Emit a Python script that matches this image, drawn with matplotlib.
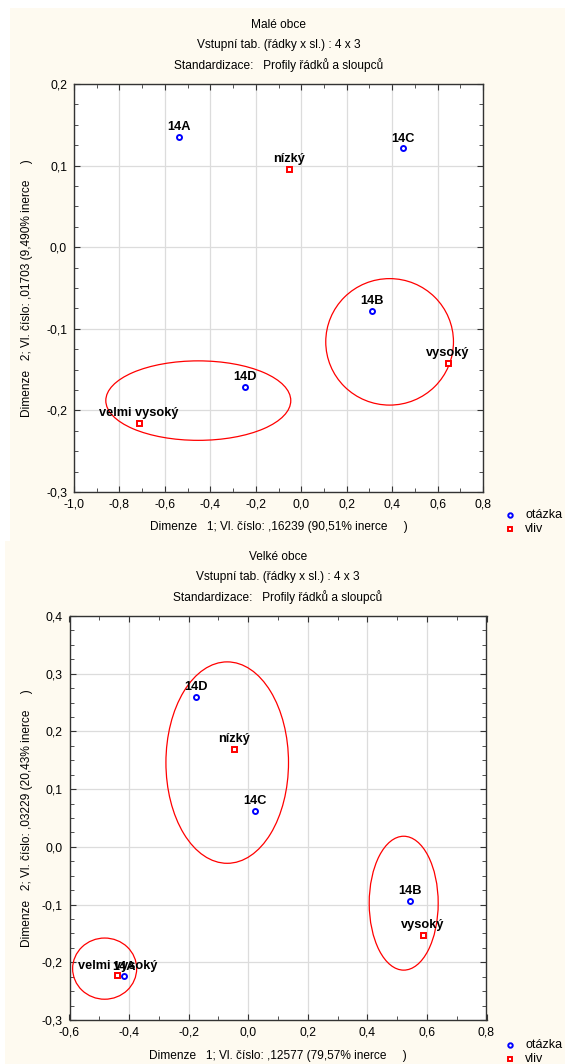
import matplotlib
matplotlib.use("Agg")
import matplotlib.pyplot as plt
from matplotlib.patches import Ellipse, Rectangle
from matplotlib.ticker import MultipleLocator, FuncFormatter

# --- data: Male obce ---
small_q_names = ["14A", "14B", "14C", "14D"]
small_q_x = [-0.538, 0.310, 0.448, -0.247]
small_q_y = [0.1355, -0.078, 0.121, -0.171]
small_v_names = ["nízký", "vysoký", "velmi vysoký"]
small_v_x = [-0.054, 0.645, -0.715]
small_v_y = [0.096, -0.1416, -0.215]
# ellipses: center x, center y, width, height
small_ell = [(0.389, -0.116, 0.562, 0.155), (-0.453, -0.188, 0.814, 0.0974)]

# --- data: Velke obce ---
big_q_names = ["14A", "14B", "14C", "14D"]
big_q_x = [-0.417, 0.544, 0.0235, -0.1756]
big_q_y = [-0.2246, -0.093, 0.0624, 0.260]
big_v_names = ["nízký", "vysoký", "velmi vysoký"]
big_v_x = [-0.049, 0.587, -0.439]
big_v_y = [0.170, -0.152, -0.222]
big_ell = [(-0.0705, 0.146, 0.4115, 0.349), (0.522, -0.0976, 0.2316, 0.232),
           (-0.482, -0.211, 0.215, 0.106)]

plt.rcParams['font.family'] = ['Liberation Sans', 'DejaVu Sans']
plt.rcParams['font.size'] = 8.6

W, H = 565, 1064
cream = '#fefaf0'
fig = plt.figure(figsize=(W / 100, H / 100), dpi=100, facecolor='white')
fig.patches.append(Rectangle((10 / W, 1 - 541 / H), 1, 533 / H, transform=fig.transFigure,
                             facecolor=cream, edgecolor='none', zorder=-10))
fig.patches.append(Rectangle((5 / W, 0), 1, 1 - 541 / H, transform=fig.transFigure,
                             facecolor=cream, edgecolor='none', zorder=-10))

fmt = FuncFormatter(lambda v, p: ("%.1f" % v).replace('.', ',').replace('-0,0', '0,0'))


def panel(box, xlim, ylim, title, xlab, ylab, qx, qy, qn, vx, vy, vn, ells, ytop, xlab_y, leg_y):
    l, t, r, b = box
    ax = fig.add_axes([l / W, 1 - b / H, (r - l) / W, (b - t) / H])
    ax.set_facecolor('white')
    ax.set_xlim(xlim)
    ax.set_ylim(ylim)
    ax.xaxis.set_major_locator(MultipleLocator(0.2))
    ax.xaxis.set_minor_locator(MultipleLocator(0.1))
    ax.yaxis.set_major_locator(MultipleLocator(0.1))
    ax.yaxis.set_minor_locator(MultipleLocator(0.025))
    ax.xaxis.set_major_formatter(fmt)
    ax.yaxis.set_major_formatter(fmt)
    ax.tick_params(which='both', direction='in', top=True, right=True, color='#333333',
                   labelsize=8.8)
    ax.tick_params(which='major', length=4, pad=5)
    ax.tick_params(which='minor', length=3)
    ax.grid(True, which='major', color='#dcdcdc', lw=0.9)
    ax.set_axisbelow(True)
    for s in ax.spines.values():
        s.set_color('#333333')
        s.set_linewidth(1.0)

    for cx, cy, w, h in ells:
        ax.add_patch(Ellipse((cx, cy), w, h, fill=False, edgecolor='red', lw=0.9, zorder=3))

    ax.plot(qx, qy, 'o', ms=3.6, mfc='white', mec='blue', mew=1.4, ls='none', zorder=4)
    ax.plot(vx, vy, 's', ms=3.6, mfc='white', mec='red', mew=1.4, ls='none', zorder=4)
    for x, y, n in list(zip(qx, qy, qn)) + list(zip(vx, vy, vn)):
        ax.annotate(n, (x, y), xytext=(0, 2.5), textcoords='offset points',
                    ha='center', va='bottom', fontsize=9.2, fontweight='bold', zorder=5)

    cx = (l + r) / 2 / W
    for i, line in enumerate(title):
        fig.text(cx, 1 - (ytop + 20 * i) / H, line, ha='center', va='center')
    fig.text(cx, 1 - xlab_y / H, xlab, ha='center', va='center')
    fig.text(27 / W, 1 - (t + b) / 2 / H, ylab, ha='center', va='center', rotation=90)

    # legend
    fig.lines.append(plt.Line2D([510 / W], [1 - leg_y / H], marker='o', ms=3.2, mfc='white',
                                mec='blue', mew=1.4, transform=fig.transFigure))
    fig.lines.append(plt.Line2D([510 / W], [1 - (leg_y + 14) / H], marker='s', ms=3.2, mfc='white',
                                mec='red', mew=1.4, transform=fig.transFigure))
    fig.text(525 / W, 1 - leg_y / H, "otázka", ha='left', va='center', fontsize=9)
    fig.text(525 / W, 1 - (leg_y + 14) / H, "vliv", ha='left', va='center', fontsize=9)
    return ax


panel((74, 84, 483, 492), (-1.0, 0.8), (-0.3, 0.2),
      ["Malé obce", "Vstupní tab. (řádky x sl.) : 4 x 3", "Standardizace:   Profily řádků a sloupců"],
      "Dimenze   1; Vl. číslo: ,16239 (90,51% inerce     )",
      "Dimenze   2; Vl. číslo: ,01703 (9,490% inerce     )",
      small_q_x, small_q_y, small_q_names, small_v_x, small_v_y, small_v_names, small_ell,
      25, 527, 515)

panel((69.5, 616, 486.5, 1020), (-0.6, 0.8), (-0.3, 0.4),
      ["Velké obce", "Vstupní tab. (řádky x sl.) : 4 x 3", "Standardizace:   Profily řádků a sloupců"],
      "Dimenze   1; Vl. číslo: ,12577 (79,57% inerce     )",
      "Dimenze   2; Vl. číslo: ,03229 (20,43% inerce     )",
      big_q_x, big_q_y, big_q_names, big_v_x, big_v_y, big_v_names, big_ell,
      557, 1056, 1045)

plt.savefig('out.png', dpi=100, facecolor=fig.get_facecolor())
